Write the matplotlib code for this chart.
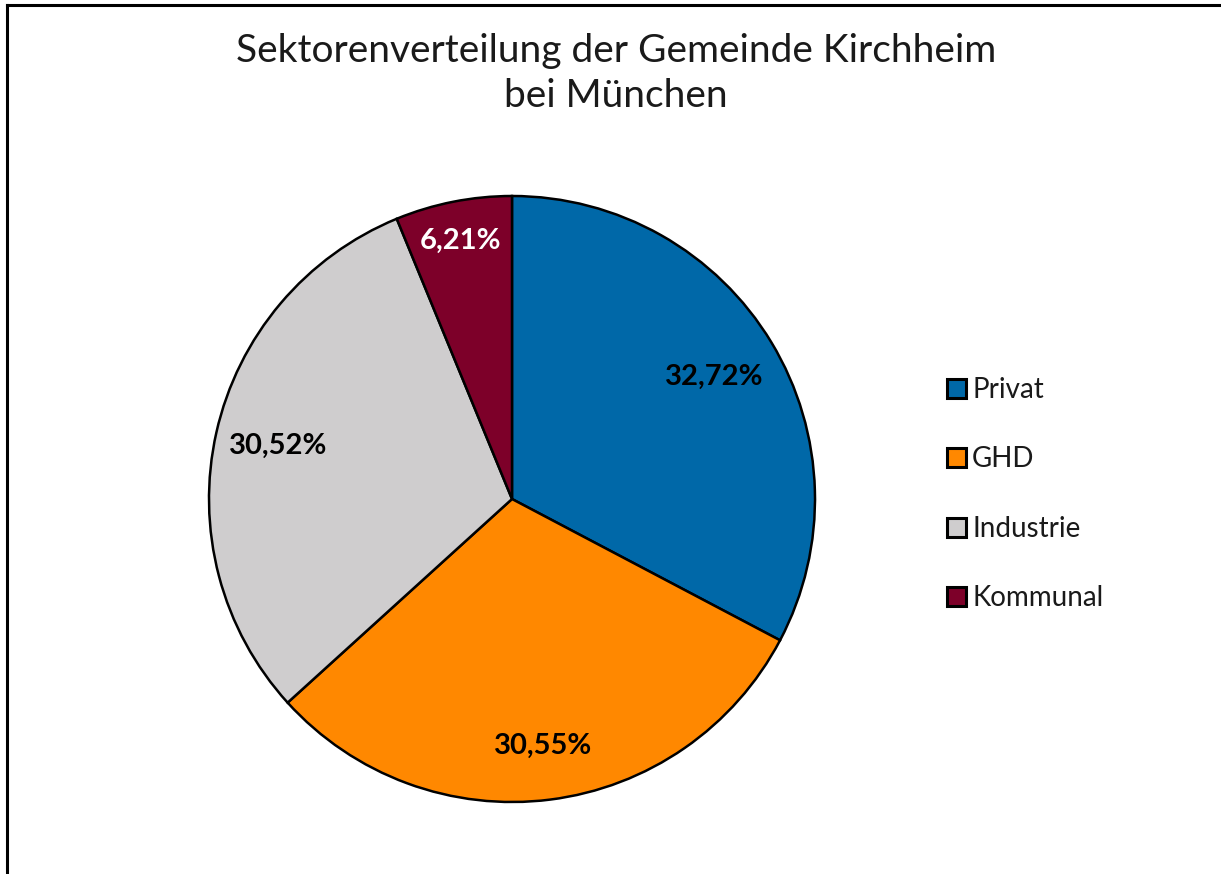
import matplotlib
matplotlib.use("Agg")
import matplotlib.pyplot as plt
from matplotlib.lines import Line2D
from matplotlib.patches import Patch
import numpy as np

categories = ["Privat", "GHD", "Industrie", "Kommunal"]
values = [32.72, 30.55, 30.52, 6.21]
labels = ["32,72%", "30,55%", "30,52%", "6,21%"]
colors = ["#0068A8", "#FF8800", "#CFCDCE", "#7D0029"]
label_colors = ["black", "black", "black", "white"]
label_dist = [0.78, 0.82, 0.79, 0.87]

plt.rcParams['font.family'] = ['Lato', 'DejaVu Sans']

fig = plt.figure(figsize=(12.21, 8.74), dpi=100)
fig.patch.set_facecolor("white")

# frame (left and top lines visible)
fig.add_artist(Line2D([6.5/1221, 6.5/1221], [0, 1 - 4.5/874], color="black", lw=2.2, transform=fig.transFigure))
fig.add_artist(Line2D([6.5/1221, 1], [1 - 4.5/874, 1 - 4.5/874], color="black", lw=2.2, transform=fig.transFigure))

cx, cy, r = 512, 499, 303
W, H = 1221, 874
ax = fig.add_axes([(cx - r) / W, 1 - (cy + r) / H, 2 * r / W, 2 * r / H])
wedges, _ = ax.pie(values, colors=colors, startangle=90, counterclock=False,
                   wedgeprops=dict(edgecolor="black", linewidth=1.8))
ax.set_xlim(-1, 1)
ax.set_ylim(-1, 1)
ax.set_aspect("equal")
for w in wedges:
    w.set_clip_on(False)

for w, lab, lc, d in zip(wedges, labels, label_colors, label_dist):
    ang = np.deg2rad((w.theta1 + w.theta2) / 2)
    ax.text(d * np.cos(ang), d * np.sin(ang), lab, ha="center", va="center",
            fontsize=21, fontweight="bold", color=lc)

fig.text(616 / W, 1 - 62 / H, "Sektorenverteilung der Gemeinde Kirchheim",
         ha="center", va="baseline", fontsize=28, fontweight="normal", color="#1a1a1a")
fig.text(616 / W, 1 - 107 / H, "bei München",
         ha="center", va="baseline", fontsize=28, fontweight="normal", color="#1a1a1a")

handles = [Patch(facecolor=c, edgecolor="black", linewidth=2.2) for c in colors]
leg = fig.legend(handles, categories, loc="upper left",
                 bbox_to_anchor=(936 / W, 1 - 366 / H), frameon=False,
                 fontsize=20, handlelength=0.68, handleheight=0.68,
                 handletextpad=0.22, labelspacing=1.56, borderaxespad=0)
for t in leg.get_texts():
    t.set_color("#1a1a1a")

fig.savefig("out.png", dpi=100, facecolor="white")
